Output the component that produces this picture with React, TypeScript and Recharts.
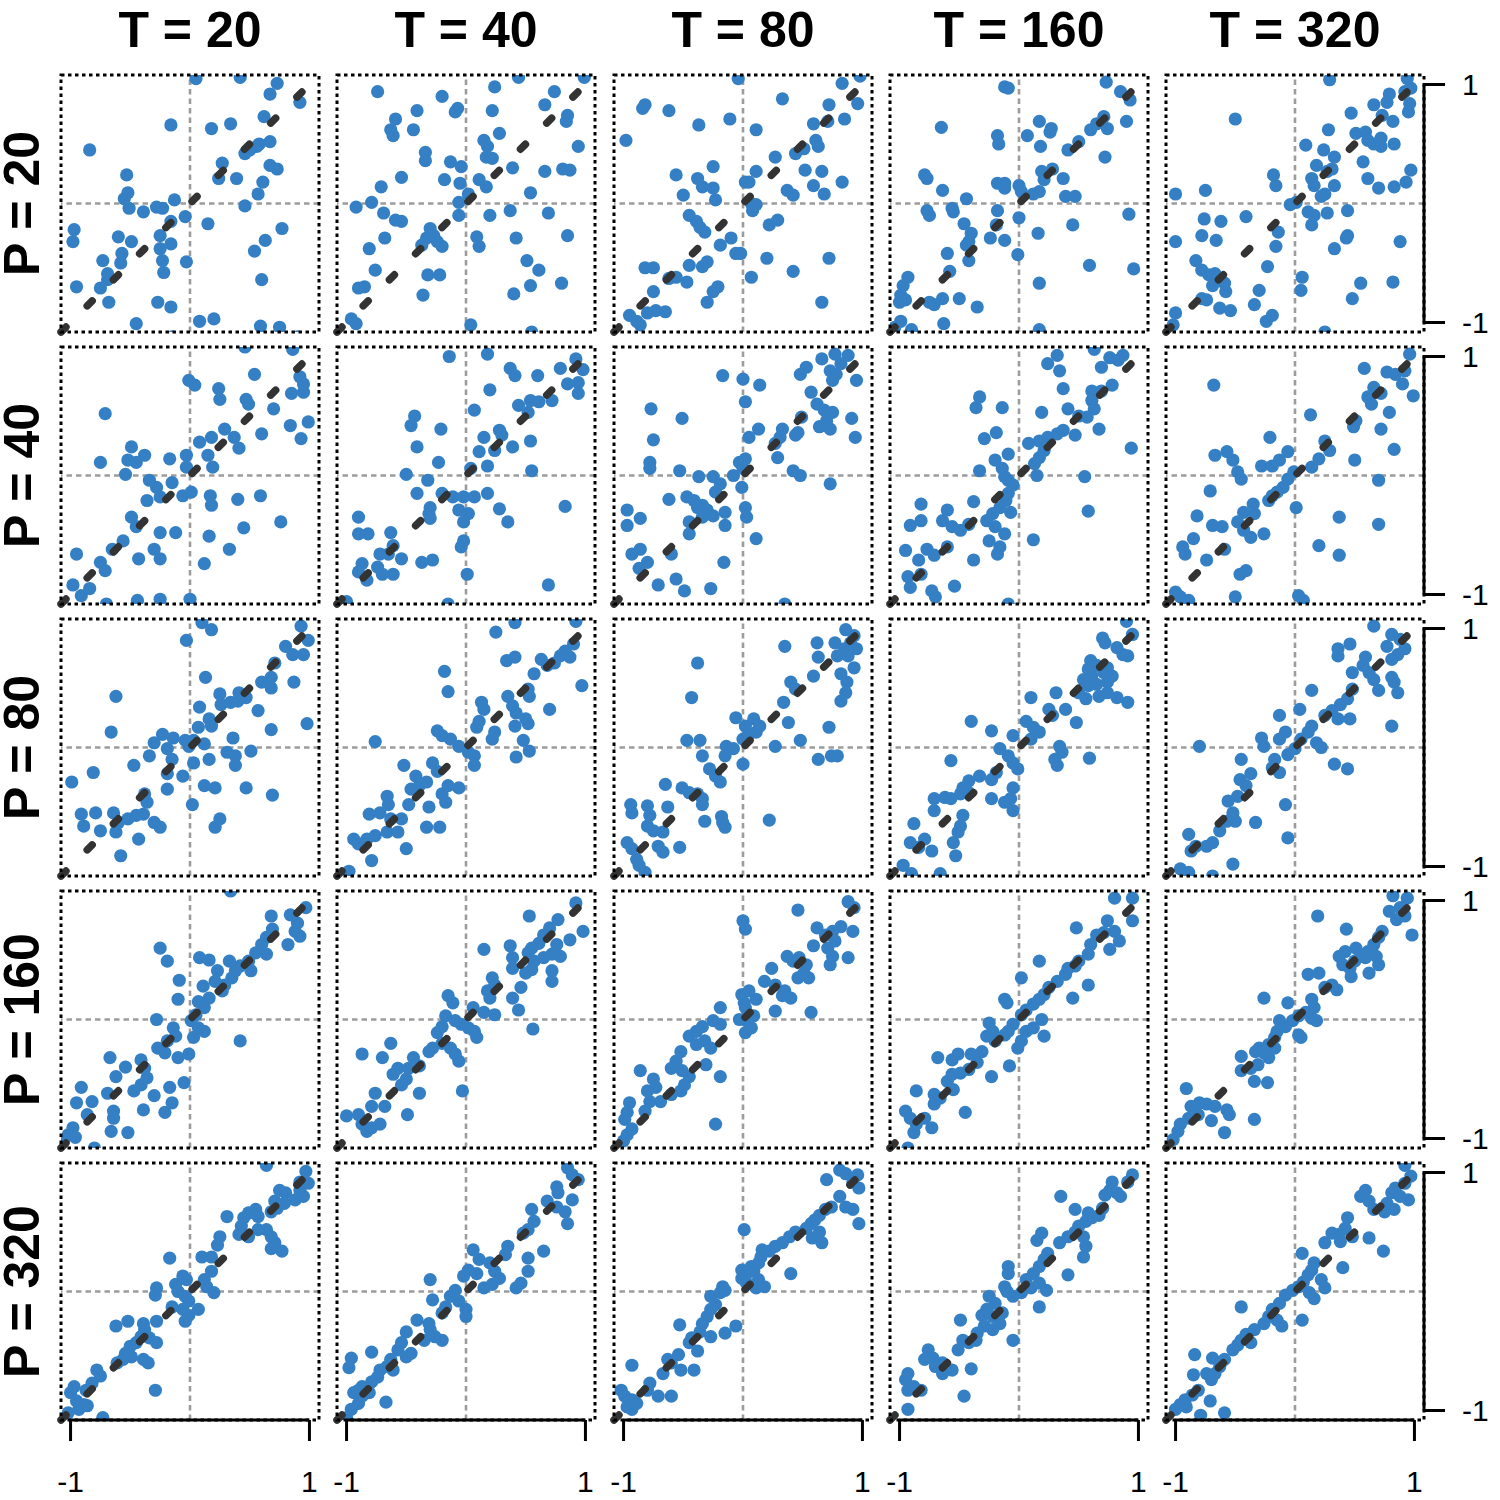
import React from 'react';
import { ScatterChart, Scatter, XAxis, YAxis, ReferenceLine, ReferenceArea } from 'recharts';

const T_VALUES = [20, 40, 80, 160, 320];
const P_VALUES = [20, 40, 80, 160, 320];
const TICKS = [-1, 1];
const DOMAIN: [number, number] = [-1.08, 1.08];

const p20t20 = [[.05,1.05],[.42,1.06],[.73,1.01],[.67,.92],[.92,.85],[-.16,.66],[.18,.63],[.34,.67],[.62,.73],[-.84,.45],[-.53,.24],[.27,.34],[.24,.21],[.39,.21],[.46,.42],[.56,.48],[.67,.52],[.67,.32],[.73,.29],[.61,.18],[.57,.08],[.46,-.02],[-.52,.09],[-.55,.04],[-.51,-.04],[-.39,-.07],[-.28,-.03],[-.23,-.04],[-.13,.03],[-.04,-.11],[-.16,-.15],[.15,-.17],[.77,-.21],[.63,-.31],[.54,-.4],[.6,-.64],[-.97,-.22],[-.98,-.32],[-.6,-.28],[-.49,-.32],[-.25,-.27],[-.25,-.38],[-.16,-.34],[-.57,-.42],[-.58,-.5],[-.73,-.48],[-.23,-.48],[-.22,-.58],[-.03,-.49],[-.69,-.59],[-.69,-.64],[-.95,-.7],[-.75,-.71],[-.68,-.83],[-.27,-.83],[-.16,-.87],[-.45,-1.01],[.08,-.99],[.2,-.97],[.59,-1.03],[.75,-1.04],[-.15,-1.12],[.9,-1.12],[.5,.45],[.58,.5]];
const p20t40 = [[-.74,.94],[-.2,.9],[.24,.98],[.44,1.06],[.74,.94],[.99,1.06],[-.41,.78],[-.59,.71],[-.63,.62],[-.61,.57],[-.44,.62],[-.09,.77],[-.07,.8],[.22,.78],[.66,.83],[.85,.74],[.84,.69],[.94,.48],[.15,.53],[.18,.48],[.28,.59],[.17,.39],[.22,.38],[-.34,.43],[-.34,.36],[-.13,.35],[-.04,.31],[.39,.3],[.66,.27],[.81,.29],[.87,.28],[-.54,.22],[-.18,.2],[-.05,.17],[.11,.2],[.17,.14],[-.71,.14],[.02,.08],[-.06,.01],[.54,.09],[-.92,-.03],[-.79,.01],[-.69,-.08],[-.59,-.14],[-.54,-.15],[-.06,-.1],[.2,-.1],[.37,-.06],[.69,-.08],[-.3,-.21],[-.27,-.27],[-.33,-.29],[-.24,-.32],[-.37,-.35],[-.2,-.36],[.09,-.28],[.11,-.36],[.42,-.29],[.85,-.27],[-.68,-.29],[-.81,-.38],[-.76,-.56],[.51,-.48],[.61,-.56],[-.32,-.6],[-.22,-.6],[.8,-.67],[.54,-.69],[.4,-.76],[-.9,-.71],[-.85,-.7],[-.36,-.77],[-.96,-.97],[-.92,-1.01],[.04,-1.02],[.55,-1.08]];
const p20t80 = [[-.82,.83],[-.84,.8],[-.62,.78],[-.37,.66],[-.11,.71],[-.98,.53],[-.56,.24],[-.38,.21],[-.34,.14],[-.25,.13],[-.23,.03],[-.25,.31],[-.5,.07],[-.45,-.1],[-.39,-.15],[-.36,-.2],[-.32,-.24],[-.19,-.35],[-.1,-.29],[-.06,-.42],[-.82,-.54],[-.75,-.54],[-.56,-.62],[-.47,-.66],[-.62,-.63],[-.45,-.52],[-.34,-.53],[-.3,-.49],[-.21,-.7],[-.25,-.74],[-.75,-.74],[-.3,-.83],[-.95,-.94],[-.89,-.99],[-.8,-.92],[-.73,-.9],[-.65,-.91],[-.86,-1.02],[-.04,1.05],[.02,.18],[.33,.88],[.83,1.01],[.96,.84],[.85,.71],[.72,.83],[.71,.69],[.59,.67],[.63,.48],[.61,.53],[.44,.42],[.51,.46],[.11,.62],[.27,.39],[.11,.27],[.52,.28],[.66,.27],[.59,.15],[.68,.08],[.83,.18],[.37,.11],[.42,.07],[.05,.18],[.07,0],[.11,-.01],[.08,-.06],[.29,-.14],[.22,-.18],[.2,-.46],[.42,-.57],[.07,-.62],[.72,-.46],[.66,-.83],[-.02,-.42],[.98,1.07]];
const p20t160 = [[-.12,.98],[-.09,.97],[-.65,.64],[-.18,.57],[-.17,.5],[.07,.57],[.17,.69],[.27,.63],[.26,.6],[.18,.48],[.41,.45],[.5,.52],[.6,.62],[.65,.67],[.74,.63],[.73,1.02],[.85,.94],[.93,.87],[.71,.73],[.9,.69],[.72,.39],[-.79,.24],[-.77,.21],[-.64,.11],[-.18,.17],[-.12,.17],[-.12,.13],[0,.15],[.02,.1],[.12,.08],[.17,.1],[.21,.2],[.19,.27],[.28,.29],[.37,.21],[.39,.06],[.47,.06],[-.44,.04],[-.77,-.06],[-.75,-.1],[-.56,-.04],[-.55,-.07],[-.18,-.06],[0,-.12],[-.46,-.17],[-.19,-.18],[.45,-.18],[.92,-.09],[.16,-.25],[-.4,-.25],[-.42,-.32],[-.44,-.35],[-.24,-.29],[-.12,-.31],[-.6,-.42],[-.01,-.43],[-.42,-.48],[-.58,-.57],[-.93,-.62],[-.97,-.69],[-.99,-.77],[-.95,-.81],[-1,-.83],[-.75,-.83],[-.71,-.85],[-.64,-.8],[-.5,-.8],[-.35,-.87],[-.63,-1.01],[-.99,-.99],[-.9,-1.06],[.17,-.67],[.59,-.52],[.96,-.55],[.17,-1.06],[-1.04,-1.04]];
const p20t320 = [[.29,1.04],[-.5,.71],[.94,1.05],[.97,.97],[.92,.94],[.79,.92],[.77,.85],[.66,.83],[.96,.84],[.95,.77],[.47,.76],[.73,.74],[.82,.69],[.28,.62],[.51,.59],[.59,.6],[.61,.53],[.66,.5],[.72,.55],[.83,.5],[.72,.48],[.09,.49],[.24,.45],[.33,.39],[.18,.32],[.27,.27],[.31,.29],[.57,.35],[.97,.28],[.93,.18],[.83,.14],[.61,.21],[.7,.13],[.14,.21],[.16,.15],[.25,.08],[.22,.06],[.33,.15],[-.04,-.01],[.01,.01],[.11,-.07],[.16,-.1],[.14,-.18],[.27,-.08],[.44,-.06],[.44,-.27],[.43,-.29],[.33,-.38],[.88,-.32],[-.18,.24],[-.16,.15],[-1,.08],[-.75,.11],[-.76,-.13],[-.62,-.15],[-.41,-.11],[-.78,-.27],[-.66,-.31],[-1,-.32],[-.14,-.24],[-.16,-.36],[-.83,-.48],[-.78,-.56],[-.72,-.6],[-.67,-.59],[-.69,-.69],[-.59,-.67],[-.58,-.74],[-.23,-.53],[.06,-.62],[.05,-.73],[.55,-.67],[.82,-.66],[.48,-.8],[-.78,-.8],[-.74,-.81],[-1,-.92],[-.63,-.88],[-.54,-.9],[-.34,-.85],[-.3,-.73],[-.24,-.99],[-.19,-.94],[.25,-1.08],[-1.02,-1.02]];

const p40t20 = [[.46,1.08],[.86,1.06],[-.01,.8],[.04,.76],[.24,.73],[.25,.64],[.54,.85],[.47,.64],[.49,.6],[.7,.56],[.85,.69],[.92,.83],[.95,.77],[.95,.7],[.84,.42],[.93,.31],[.99,.45],[.6,.35],[-.71,.52],[.29,.39],[.37,.32],[.41,.23],[.08,.28],[.18,.32],[.15,.17],[.19,.07],[-.03,.17],[-.03,.07],[-.17,.14],[-.49,.24],[-.52,.13],[-.45,.11],[-.38,.17],[-.75,.11],[-.54,.01],[-.34,-.04],[-.28,-.1],[-.15,-.06],[-.36,-.21],[-.25,-.18],[-.06,-.17],[.01,-.14],[.17,-.17],[.18,-.25],[.4,-.2],[.59,-.17],[.76,-.39],[-.49,-.35],[-.45,-.43],[-.25,-.48],[-.12,-.48],[.45,-.44],[.16,-.51],[-.56,-.55],[-.65,-.62],[-.3,-.62],[-.25,-.7],[-.43,-.7],[-.75,-.73],[-.71,-.8],[-.95,-.66],[.12,-.74],[.33,-.62],[-.98,-.92],[-.91,-1.01],[-.84,-.95],[-.44,-1.05],[-.25,-1.04],[0,-1.04],[-.7,-1.08]];
const p40t40 = [[-.14,1],[.18,1.02],[.37,.9],[.41,.84],[.6,.84],[.79,.9],[.92,.98],[.98,.89],[.94,.78],[.94,.69],[.85,.77],[.2,.72],[-.43,.5],[-.46,.42],[-.21,.39],[-.41,.24],[.07,.55],[.44,.59],[.54,.63],[.61,.62],[.72,.63],[.52,.53],[.15,.32],[.28,.38],[.3,.34],[.24,.21],[.11,.2],[.18,.08],[.39,.24],[.54,.29],[.55,.04],[-.23,.11],[.04,.06],[-.5,.01],[-.32,-.04],[.18,-.15],[-.41,-.15],[-.2,-.15],[-.11,-.18],[-.02,-.18],[.07,-.18],[-.06,-.29],[.02,-.32],[-.02,-.39],[-.3,-.27],[-.3,-.36],[-.31,-.32],[.28,-.28],[.35,-.39],[.83,-.26],[-.9,-.35],[-.63,-.48],[-.9,-.49],[-.82,-.49],[-.02,-.55],[-.04,-.6],[-.61,-.59],[-.54,-.7],[-.65,-.66],[-.72,-.66],[-.74,-.77],[-.7,-.83],[-.61,-.83],[-.87,-.74],[-.9,-.81],[-.83,-.88],[-.37,-.73],[-.28,-.71],[.01,-.83],[.69,-.92],[-1,-1.06],[-.15,-1.08]];
const p40t80 = [[-.77,.56],[-.51,.48],[-.75,.3],[-.78,.11],[-.78,.06],[-.53,.04],[-.37,-.01],[-.25,-.01],[-.19,-.07],[-.23,-.14],[-.08,0],[-.03,.11],[-.62,-.2],[-.47,-.18],[-.41,-.21],[-.38,-.27],[-.34,-.25],[-.3,-.29],[-.34,-.35],[-.45,-.39],[-.45,-.49],[-.25,-.34],[-.15,-.31],[-.15,-.42],[-.97,-.29],[-.97,-.42],[-.86,-.36],[-.93,-.66],[-.86,-.62],[-.6,-.66],[-.87,-.78],[-.8,-.73],[-.56,-.87],[-.71,-.92],[-.49,-.97],[-.27,-.95],[-.16,-.73],[-.01,-.1],[-.17,.84],[0,.81],[.14,.76],[.02,.62],[.66,.98],[.77,1.02],[.82,.94],[.88,1.01],[.73,.88],[.78,.85],[.75,.8],[.95,.8],[.48,.85],[.53,.91],[.57,.7],[.49,.49],[.62,.6],[.68,.55],[.75,.53],[.7,.46],[.73,.39],[.64,.41],[.91,.48],[.94,.32],[.33,.39],[.31,.32],[.46,.36],[.44,.34],[.13,.39],[.05,.32],[.27,.27],[.29,.15],[.42,.04],[.48,0],[.73,-.07],[.02,.14],[0,.06],[.02,-.27],[.03,-.35],[.11,-.53],[.35,-1.08]];
const p40t160 = [[.32,1.01],[.24,.94],[.34,.88],[.63,1.06],[.76,.99],[.83,.97],[.87,1.01],[.69,.91],[.37,.73],[.61,.71],[.69,.71],[.78,.76],[.61,.63],[.63,.56],[.57,.49],[.5,.5],[.41,.56],[.19,.53],[-.33,.66],[-.36,.57],[-.14,.57],[-.19,.36],[-.29,.31],[.47,.34],[.67,.39],[.94,.23],[.08,.27],[.17,.29],[.24,.32],[.32,.35],[.37,.38],[.21,.21],[.17,.15],[.13,.1],[-.09,.18],[-.2,.13],[-.14,.06],[-.12,-.01],[-.09,-.04],[-.05,-.08],[-.33,.04],[.15,0],[.55,-.01],[-.09,-.15],[-.11,-.21],[-.16,-.27],[-.22,-.32],[-.27,-.38],[-.2,-.43],[-.12,-.49],[-.25,-.55],[-.16,-.6],[-.07,-.31],[-.38,-.22],[.58,-.3],[.12,-.54],[-.82,-.24],[-.82,-.38],[-.6,-.29],[-.64,-.38],[-.56,-.43],[-.49,-.46],[-.42,-.41],[-.91,-.42],[-.95,-.63],[-.84,-.71],[-.77,-.62],[-.71,-.67],[-.6,-.6],[-.38,-.71],[-.18,-.66],[-.93,-.85],[-.91,-.94],[-.82,-.83],[-.73,-.97],[-.7,-1.02],[-.54,-.93],[-.09,-1.08]];
const p40t320 = [[-.68,.76],[.58,.9],[.77,.87],[.84,.85],[.92,.88],[.96,1.02],[.9,.77],[.99,.67],[.66,.74],[.72,.69],[.61,.66],[.64,.6],[.79,.53],[.72,.39],[.83,.22],[.51,.46],[.49,.41],[.13,.51],[-.21,.32],[.25,.29],[.29,.21],[.2,.14],[.14,.07],[.5,.13],[-.06,.2],[-.13,.13],[-.19,.08],[-.28,.08],[-.01,.03],[-.06,-.03],[-.1,-.1],[-.15,-.14],[-.19,-.17],[-.22,-.21],[-.67,.17],[-.57,.2],[-.52,.13],[-.48,.03],[-.45,-.03],[-.71,-.13],[.7,-.04],[.01,-.27],[.37,-.35],[.7,-.41],[-.35,-.24],[-.34,-.32],[-.43,-.31],[-.48,-.39],[-.43,-.46],[-.37,-.52],[-.26,-.49],[-.82,-.34],[-.69,-.42],[-.61,-.43],[-.94,-.6],[-.92,-.66],[-.85,-.53],[-.74,-.71],[-.59,-.62],[-.46,-.83],[-.41,-.8],[.2,-.59],[.37,-.67],[-.5,-1.02],[.03,-1.01],[.07,-1.05],[-1,-.98],[-.96,-1.02],[-.89,-1.05]];

const p80t20 = [[.1,1.05],[.18,.99],[-.03,.9],[.93,1.02],[.99,.9],[.95,.78],[.8,.85],[.86,.78],[.71,.71],[.87,.55],[.68,.59],[.68,.5],[.6,.55],[.57,.31],[.68,.15],[.98,.2],[.13,.59],[-.62,.43],[-.66,.13],[.08,.34],[.07,.17],[.25,.45],[.26,.36],[.34,.38],[.41,.46],[.47,.42],[.4,.39],[.16,.24],[.18,.18],[.36,.08],[-.23,.11],[-.3,.04],[-.34,-.07],[-.14,.08],[-.04,.06],[-.01,.01],[.03,.06],[.12,.03],[.16,-.1],[-.19,-.01],[-.15,-.1],[.31,-.04],[.38,-.07],[.38,-.15],[.51,-.03],[.03,-.13],[-.47,-.15],[-.81,-.21],[-.99,-.29],[-.19,-.22],[-.19,-.35],[-.06,-.24],[.12,-.32],[.21,-.34],[.47,-.34],[.69,-.4],[-.38,-.39],[-.36,-.46],[.02,-.48],[-.91,-.56],[-.89,-.66],[-.79,-.55],[-.64,-.55],[-.6,-.63],[-.52,-.6],[-.45,-.57],[-.39,-.56],[-.3,-.63],[-.25,-.67],[-.75,-.7],[-.62,-.71],[-.43,-.77],[.25,-.6],[.21,-.67],[-.58,-.91]];
const p80t40 = [[.41,1.05],[.25,.97],[.92,1.06],[.9,.87],[.83,.81],[.87,.76],[.79,.77],[.63,.74],[.68,.69],[.74,.71],[.97,.52],[.34,.73],[.41,.76],[.57,.62],[.52,.49],[.53,.43],[.7,.32],[-.18,.64],[-.15,.47],[.13,.38],[.15,.32],[.35,.43],[.39,.35],[.42,.29],[.5,.24],[.52,.2],[.41,.18],[.11,.22],[.09,.17],[.24,.13],[.22,.07],[.48,.06],[.53,-.03],[.42,-.08],[-.24,.14],[-.2,.1],[-.13,.07],[-.06,.01],[.02,-.04],[.07,-.07],[.07,-.15],[-.76,.05],[-.52,-.15],[-.28,-.13],[-.24,-.2],[-.42,-.24],[-.39,-.32],[-.46,-.35],[-.33,-.29],[-.15,-.32],[-.06,-.34],[-.2,-.39],[-.17,-.46],[-.31,-.5],[-.66,-.41],[-.65,-.48],[-.48,-.48],[-.81,-.56],[-.72,-.55],[-.63,-.6],[-.54,-.6],[-.33,-.67],[-.22,-.67],[-.94,-.77],[-.9,-.81],[-.83,-.77],[-.76,-.74],[-.66,-.71],[-.57,-.71],[-.79,-.95],[-.5,-.85],[-.98,-1.04]];
const p80t80 = [[-.38,.71],[-.43,.42],[-.06,.25],[-.47,.06],[-.36,.06],[-.14,.01],[-.08,-.01],[-.15,-.07],[-.34,-.07],[-.28,-.18],[-.23,-.24],[-.19,-.29],[-.65,-.31],[-.51,-.34],[-.45,-.38],[-.38,-.39],[-.34,-.43],[-.34,-.48],[-.32,-.62],[-.17,-.63],[-.18,-.58],[-.15,-.67],[-.94,-.48],[-.93,-.55],[-.8,-.49],[-.78,-.57],[-.8,-.66],[-.63,-.5],[-.75,-.7],[-.67,-.71],[-.71,-.83],[-.67,-.88],[-.97,-.8],[-.93,-.85],[-.89,-.94],[-.87,-.99],[-.53,-.84],[-.82,-1.05],[.02,.18],[.09,.24],[.14,.18],[.05,.11],[0,.07],[.11,.13],[.35,.85],[.62,.88],[.63,.76],[.59,.6],[.4,.55],[.44,.49],[.34,.38],[.38,.21],[.72,.17],[.48,.06],[.27,.01],[.77,.88],[.85,.83],[.9,.88],[.86,.99],[.93,.94],[.95,.83],[.88,.77],[.79,.77],[.93,.67],[.82,.62],[.87,.55],[.86,.46],[.82,.39],[.63,-.1],[.74,-.07],[.79,-.07],[0,-.14],[.22,-.61]];
const p80t160 = [[.9,1.06],[.7,.92],[.72,.88],[.95,.95],[.82,.84],[.87,.78],[.91,.77],[.6,.73],[.65,.69],[.71,.63],[.74,.67],[.78,.6],[.58,.66],[.61,.6],[.54,.57],[.58,.52],[.65,.53],[.74,.55],[.74,.46],[.67,.43],[.82,.42],[.91,.38],[.5,.46],[.56,.41],[.31,.46],[.1,.42],[.25,.32],[.28,.27],[.39,.32],[.48,.21],[-.4,.22],[-.23,.14],[-.05,.1],[.06,.22],[.12,.17],[.17,.13],[.1,.07],[.34,.01],[.36,-.04],[.3,-.1],[.32,-.15],[.59,-.09],[-.16,-.01],[-.09,-.07],[-.05,-.13],[-.01,-.18],[-.57,-.11],[-.19,-.21],[-.23,-.27],[-.33,-.24],[-.42,-.28],[-.47,-.34],[-.49,-.39],[-.57,-.43],[-.42,-.38],[-.05,-.34],[-.07,-.43],[-.05,-.53],[-.23,-.43],[-.12,-.46],[-.71,-.43],[-.62,-.42],[-.71,-.53],[-.47,-.57],[-.49,-.66],[-.51,-.71],[-.55,-.8],[-.88,-.64],[-.91,-.8],[-.84,-.84],[-.79,-.77],[-.73,-.87],[-.53,-.91],[-.97,-.99],[-.9,-1.06],[-.66,-1.06]];
const p80t320 = [[.66,1.02],[.46,.87],[.36,.83],[.36,.77],[.59,.76],[.57,.69],[.62,.63],[.66,.57],[.81,.95],[.88,.91],[.92,.83],[.86,.78],[.81,.74],[.77,.85],[.48,.63],[.81,.59],[.83,.55],[.86,.46],[.7,.48],[.81,.18],[.48,.49],[.44,.41],[.38,.36],[.31,.31],[.25,.27],[.36,.24],[.46,.24],[.14,.48],[.04,.32],[.14,.18],[.11,.13],[.05,.07],[.18,.04],[.22,0],[-.13,.27],[-.08,.13],[-.13,.07],[0,-.01],[-.06,-.06],[-.28,.08],[-.26,.01],[-.8,.01],[-.17,-.1],[-.19,-.17],[-.13,-.21],[.33,-.14],[.44,-.18],[-.45,-.1],[-.46,-.27],[-.41,-.32],[-.37,-.22],[-.48,-.41],[-.56,-.45],[-.52,-.55],[-.57,-.62],[-.5,-.62],[-.08,-.48],[-.33,-.63],[-.06,-.76],[-.63,-.7],[-.69,-.8],[-.74,-.83],[-.89,-.73],[-.83,-.83],[-.87,-.87],[-.52,-.98],[-.96,-1.02],[-.89,-1.05],[-.69,-1.08]];

const p160t20 = [[.34,1.08],[.68,.87],[.84,.88],[.9,.81],[.88,.74],[.92,.7],[.82,.63],[.97,.94],[.69,.76],[.64,.69],[.6,.63],[.64,.55],[.55,.56],[.49,.49],[.51,.41],[.42,.45],[.33,.49],[.38,.41],[.35,.35],[.29,.29],[.23,.41],[.21,.32],[.27,.24],[.08,.52],[.16,.5],[.11,.28],[.16,.18],[.07,.15],[.12,.1],[.05,.04],[.01,-.01],[.07,-.07],[.12,-.1],[.03,-.15],[-.25,.6],[-.19,.49],[-.09,.33],[-.1,.17],[-.28,0],[.42,-.18],[-.14,-.07],[-.12,-.14],[-.19,-.18],[-.27,-.24],[-.21,-.28],[-.1,-.32],[-.01,-.29],[-.67,-.32],[-.41,-.34],[-.38,-.41],[-.54,-.4],[-.62,-.48],[-.36,-.49],[-.41,-.55],[-.47,-.6],[-.17,-.57],[-.05,-.53],[-.3,-.64],[-.15,-.7],[-.21,-.78],[-.39,-.76],[-.69,-.62],[-.91,-.57],[-.82,-.69],[-.95,-.7],[-.86,-.8],[-.64,-.77],[-.64,-.83],[-.66,-.94],[-.52,-.95],[-.98,-.91],[-.96,-.99],[-1.02,-.97],[-1.06,-1.02],[-.8,-1.08]];
const p160t40 = [[.53,.87],[.92,.98],[.98,.74],[.77,.84],[.7,.77],[.65,.71],[.61,.64],[.55,.6],[.52,.56],[.57,.49],[.65,.52],[.72,.55],[.79,.53],[.87,.67],[.76,.63],[.72,.41],[.72,.32],[.55,.42],[.5,.39],[.37,.62],[.39,.52],[.39,.43],[.15,.59],[.22,.35],[.24,.29],[.18,.24],[.2,.18],[.46,.27],[.39,.18],[.44,.08],[.56,-.08],[.06,.1],[.15,.06],[.24,.04],[-.15,.2],[-.11,.14],[-.17,.03],[-.09,-.01],[-.04,-.04],[.02,-.07],[.07,-.1],[.09,-.15],[-.2,-.06],[-.24,-.11],[-.2,-.2],[-.28,-.24],[-.31,-.27],[-.13,-.24],[-.09,-.29],[-.06,-.35],[-.63,-.2],[-.87,-.29],[-.7,-.32],[-.57,-.41],[-.61,-.46],[-.48,-.41],[-.44,-.32],[-.39,-.39],[-.5,-.5],[-.54,-.55],[-.76,-.62],[-.68,-.73],[-.79,-.73],[-.39,-.62],[-.03,-.6],[-1,-.81],[-.9,-.8],[-.87,-.88],[-.79,-.91],[-.72,-.88],[-.83,-.94],[-.49,-.8]];
const p160t80 = [[-.19,.1],[-.34,-.06],[-.39,-.1],[-.45,-.14],[-.39,-.21],[-.32,-.18],[-.27,-.24],[-.25,-.01],[-.19,-.04],[-.52,-.27],[-.56,-.35],[-.6,-.41],[-.51,-.43],[-.45,-.48],[-.49,-.55],[-.52,-.6],[-.6,-.63],[-.19,-.48],[-.86,-.43],[-.75,-.5],[-.8,-.6],[-.78,-.69],[-.82,-.77],[-.69,-.69],[-.73,-.57],[-.95,-.7],[-.97,-.78],[-.99,-.84],[-.93,-.92],[-.97,-.97],[-1,-1.02],[-.23,-.88],[-.03,0],[-.01,.21],[.01,.14],[-.31,-.38],[0,.83],[.02,.76],[.46,.92],[.62,.77],[.69,.71],[.75,.74],[.82,.78],[.77,.66],[.71,.6],[.75,.53],[.73,.46],[.88,.52],[.88,.99],[.93,.94],[.92,.74],[.59,.62],[.37,.53],[.42,.49],[.47,.52],[.53,.46],[.51,.39],[.55,.35],[.46,.35],[.24,.43],[.18,.32],[.27,.29],[.35,.24],[.4,.18],[.33,.2],[.27,.07],[.05,.24],[.11,.17],[.02,.1],[.09,.03],[.03,-.01],[.07,-.07],[.02,-.11],[.57,.06]];
const p160t160 = [[.8,1.02],[.95,1.02],[.95,.83],[.48,.77],[.74,.83],[.71,.73],[.65,.71],[.8,.74],[.84,.66],[.76,.59],[.6,.63],[.58,.55],[.5,.49],[.47,.45],[.41,.43],[.39,.38],[.58,.29],[.17,.49],[.02,.35],[.32,.32],[.25,.27],[.21,.21],[.17,.17],[.12,.13],[.06,.08],[.02,.04],[.45,.18],[-.1,.14],[-.12,.17],[.19,0],[.21,-.14],[.12,-.07],[.06,-.1],[.02,-.18],[-.25,-.03],[-.22,-.1],[-.27,-.14],[-.2,-.18],[-.12,-.13],[-.05,-.04],[-.09,-.1],[-.01,-.24],[-.31,-.27],[-.4,-.29],[-.35,-.36],[-.42,-.42],[-.49,-.45],[-.56,-.46],[-.6,-.52],[-.68,-.32],[-.56,-.34],[-.51,-.29],[-.08,-.39],[-.23,-.48],[-.71,-.63],[-.66,-.66],[-.71,-.71],[-.55,-.59],[-.86,-.6],[-.95,-.77],[-.91,-.83],[-.86,-.88],[-.79,-.83],[-.73,-.91],[-.45,-.78],[-.88,-.95],[-.93,-1.08]];
const p160t320 = [[.19,.87],[.43,.76],[.82,1.04],[.94,1.02],[.88,.94],[.79,.91],[.85,.84],[.92,.87],[.98,.71],[.73,.74],[.7,.69],[.66,.63],[.61,.57],[.55,.53],[.5,.49],[.46,.43],[.4,.46],[.37,.53],[.42,.57],[.51,.6],[.59,.52],[.68,.53],[.7,.46],[.62,.39],[.47,.36],[.11,.38],[.2,.39],[.31,.29],[.25,.27],[.35,.25],[.14,.17],[.16,.1],[.09,.06],[.03,.03],[.14,.01],[.18,-.01],[-.26,.18],[-.06,.14],[-.02,-.01],[-.08,-.06],[-.13,-.01],[-.15,-.1],[.03,-.13],[.05,-.15],[-.17,-.15],[-.22,-.21],[-.3,-.24],[-.33,-.27],[-.26,-.28],[-.17,-.24],[-.22,-.32],[-.31,-.38],[-.37,-.41],[-.45,-.43],[-.45,-.31],[-.34,-.52],[-.23,-.53],[-.91,-.58],[-.87,-.73],[-.8,-.7],[-.74,-.71],[-.67,-.73],[-.57,-.76],[-.55,-.8],[-.81,-.8],[-.89,-.83],[-.96,-.88],[-.98,-.94],[-1.02,-1.01],[-.7,-.85],[-.59,-.95],[-.34,-.84]];

const p320t20 = [[.64,1.06],[.97,1.01],[.92,.92],[.99,.91],[.92,.85],[.88,.77],[.95,.8],[.8,.83],[.75,.85],[.71,.76],[.73,.7],[.68,.67],[.79,.74],[.31,.63],[.49,.66],[.55,.69],[.57,.63],[.45,.62],[.43,.55],[.41,.48],[.49,.46],[.57,.52],[.64,.52],[.68,.46],[.71,.41],[.77,.34],[.68,.36],[.25,.46],[.23,.39],[.1,.29],[.18,.29],[-.17,.28],[-.06,.13],[-.12,.06],[-.03,.1],[-.1,0],[-.04,-.04],[-.01,-.08],[.18,.17],[.12,.1],[.14,.04],[.2,-.01],[-.28,.03],[-.29,-.03],[-.15,-.13],[-.06,-.15],[-.01,-.2],[-.04,-.25],[.07,-.15],[-.62,-.29],[-.52,-.25],[-.39,-.27],[-.28,-.25],[-.38,-.32],[-.41,-.38],[-.34,-.39],[-.28,-.43],[-.45,-.43],[-.5,-.46],[-.54,-.52],[-.49,-.55],[-.56,-.57],[-.39,-.57],[-.35,-.6],[-.61,-.6],[-.78,-.66],[-.75,-.71],[-.82,-.77],[-.87,-.83],[-.97,-.8],[-1,-.85],[-.95,-.92],[-.89,-.95],[-.93,-.99],[-.86,-.96],[-.29,-.83],[-.73,-1.06],[-1.02,-1.02]];
const p320t40 = [[.85,1.04],[.89,.98],[.94,.94],[.76,.88],[.77,.83],[.89,.77],[.68,.76],[.76,.71],[.83,.67],[.85,.57],[.55,.69],[.57,.59],[.52,.52],[.48,.49],[.65,.34],[.52,.28],[.52,.17],[.46,.07],[.42,.03],[.35,.38],[.33,.31],[.06,.35],[.11,.27],[.2,.24],[.24,.17],[.28,.11],[.22,.06],[.15,.03],[.09,.15],[.02,.18],[-.02,.13],[-.3,.1],[-.09,.01],[-.13,-.04],[-.06,-.08],[0,-.15],[0,-.21],[-.17,-.13],[-.2,-.18],[-.28,-.07],[-.41,-.24],[-.31,-.27],[-.3,-.32],[-.26,-.38],[-.2,-.41],[-.35,-.41],[-.5,-.34],[-.54,-.43],[-.57,-.49],[-.46,-.52],[-.5,-.55],[-.79,-.51],[-.63,-.57],[-.66,-.63],[-.72,-.66],[-.61,-.66],[-.96,-.56],[-.98,-.64],[-.74,-.72],[-.79,-.76],[-.87,-.8],[-.9,-.83],[-.94,-.85],[-.87,-.88],[-.81,-.85],[-.9,-.94],[-.96,-.99],[-.67,-.93],[-1,-1.06]];
const p320t80 = [[-.93,-.62],[-1.02,-.83],[-.99,-.88],[-.93,-.91],[-.97,-.97],[-.89,-.94],[-.93,-.99],[-.78,-.77],[-.8,-.83],[-.71,-.88],[-.6,-.88],[-.67,-.69],[-.63,-.57],[-.6,-.6],[-.54,-.53],[-.52,-.66],[-.41,-.66],[-.38,-.5],[-.43,-.39],[-.45,-.43],[-.36,-.34],[-.34,-.27],[-.3,-.21],[-.27,-.15],[-.23,-.11],[-.27,-.04],[-.19,-.01],[-.17,.04],[-.53,-.28],[-.27,-.38],[-.15,-.35],[-.06,-.29],[-.15,.01],[.01,.52],[-.01,.18],[-.01,.11],[.7,.94],[.81,1.02],[.86,.99],[.96,.98],[.97,.87],[.92,.92],[.81,.8],[.86,.71],[.92,.69],[.97,.57],[.74,.71],[.69,.69],[.64,.64],[.6,.6],[.57,.57],[.53,.53],[.64,.5],[.58,.45],[.66,.41],[.44,.5],[.39,.46],[.33,.41],[.27,.38],[.22,.34],[.16,.35],[.15,.29],[.13,.24],[.07,.21],[.09,.17],[.02,.13],[.13,.1],[.18,.04],[.11,.03],[.03,.07],[.4,.15]];
const p320t160 = [[.95,.98],[.91,.92],[.78,.92],[.76,.85],[.72,.81],[.82,.83],[.85,.8],[.35,.8],[.47,.69],[.58,.66],[.61,.62],[.67,.64],[.7,.7],[.56,.59],[.5,.55],[.47,.5],[.41,.46],[.54,.46],[.56,.38],[.54,.29],[.19,.49],[.15,.43],[.34,.41],[.24,.32],[.21,.27],[.17,.21],[.12,.15],[.06,.1],[.1,.03],[.02,-.01],[-.05,-.04],[-.1,0],[-.12,.04],[-.09,.21],[-.09,.15],[.17,.07],[.23,.01],[.41,.14],[.17,-.13],[-.25,-.04],[-.2,-.1],[-.27,-.15],[-.31,-.2],[-.22,-.21],[-.14,-.18],[-.16,-.27],[-.22,-.32],[-.29,-.29],[-.35,-.35],[-.36,-.41],[-.42,-.43],[-.47,-.41],[-.51,-.49],[-.49,-.24],[-.05,-.41],[-.4,-.65],[-.76,-.49],[-.72,-.56],[-.79,-.57],[-.64,-.6],[-.56,-.66],[-.64,-.69],[-.7,-.63],[-.93,-.69],[-.95,-.74],[-.93,-.83],[-.88,-.8],[-.82,-.83],[-.46,-.88],[-.93,-.99]];
const p320t320 = [[.92,1.06],[.97,.97],[.92,.91],[.84,.87],[.81,.83],[.88,.8],[.95,.77],[.77,.74],[.83,.69],[.75,.67],[.66,.69],[.59,.85],[.55,.8],[.62,.76],[.44,.62],[.42,.53],[.37,.48],[.31,.49],[.38,.42],[.48,.46],[.25,.41],[.62,.45],[.74,.34],[.06,.32],[.4,.2],[.16,.24],[.14,.18],[.11,.14],[.07,.08],[.03,.04],[-.02,.01],[-.08,-.03],[.22,.1],[.25,.03],[.16,-.06],[.12,-.01],[-.13,-.1],[-.19,-.15],[-.22,-.21],[-.15,-.24],[-.11,-.29],[-.26,-.27],[-.45,-.13],[.06,-.24],[-.34,-.32],[-.41,-.36],[-.45,-.41],[-.48,-.45],[-.37,-.43],[-.52,-.49],[-.59,-.57],[-.63,-.63],[-.67,-.69],[-.74,-.69],[-.7,-.74],[-.85,-.7],[-.84,-.53],[-.69,-.56],[-.81,-.83],[-.86,-.87],[-.92,-.91],[-.96,-.95],[-1,-.99],[-.91,-.97],[-.71,-.92],[-.79,-1.04],[-.59,-1.02]];

const GRID = [
  [p20t20, p20t40, p20t80, p20t160, p20t320],
  [p40t20, p40t40, p40t80, p40t160, p40t320],
  [p80t20, p80t40, p80t80, p80t160, p80t320],
  [p160t20, p160t40, p160t80, p160t160, p160t320],
  [p320t20, p320t40, p320t80, p320t160, p320t320],
];

const FONT = '"Liberation Sans", Arial, Helvetica, sans-serif';
const BLUE = '#3580C5';
const PW = 258;
const PH = 257;
const M = 5;
const AX = 80;
const TICK_SIZE = 21;
const TICK_MARGIN_X = 30;
const TICK_MARGIN_Y = 17;
const COL_LEFT = [61, 337, 614, 890, 1166];
const ROW_TOP = [75, 347, 619, 891, 1163];

const Dot = (props: any) => {
  if (props.cx == null || props.cy == null) return null;
  return <circle cx={props.cx} cy={props.cy} r={6.6} fill={BLUE} />;
};

const GreyLine = (p: any) => (
  <line x1={p.x1} y1={p.y1} x2={p.x2} y2={p.y2} stroke="#9c9c9c" strokeWidth={2.6} strokeDasharray="5.5 4" />
);

const Diagonal = (p: any) => (
  <line x1={p.x1} y1={p.y1} x2={p.x2} y2={p.y2} stroke="#333333" strokeWidth={7.5} strokeLinecap="round" strokeDasharray="7 30" />
);

const AxisLine = (p: any) => (
  <line x1={p.x1} y1={p.y1} x2={p.x2} y2={p.y2} stroke="#000" strokeWidth={3} />
);

const Border = (p: any) => (
  <rect x={p.x} y={p.y} width={p.width} height={p.height} fill="none" stroke="#000" strokeWidth={3} strokeDasharray="3.5 3.5" />
);

const BottomTick = (p: any) => (
  <g>
    <line x1={p.x} y1={p.y - TICK_SIZE - TICK_MARGIN_X} x2={p.x} y2={p.y - TICK_MARGIN_X} stroke="#000" strokeWidth={3} />
    <text x={p.x} y={p.y + 21} textAnchor="middle" fontSize={30} fontFamily={FONT} fill="#000">
      {p.payload.value}
    </text>
  </g>
);

const RightTick = (p: any) => (
  <g>
    <line x1={p.x - TICK_SIZE - TICK_MARGIN_Y} y1={p.y} x2={p.x - TICK_MARGIN_Y} y2={p.y} stroke="#000" strokeWidth={3} />
    <text x={p.x} y={p.y + 10.5} textAnchor="start" fontSize={30} fontFamily={FONT} fill="#000">
      {p.payload.value}
    </text>
  </g>
);

function Panel({ pts, r, c }: { pts: number[][]; r: number; c: number }) {
  const isBottom = r === 4;
  const isRight = c === 4;
  const w = M + PW + M + (isRight ? AX : 0);
  const h = M + PH + M + (isBottom ? AX : 0);
  const data = pts.map(([x, y]) => ({ x, y }));
  return (
    <div style={{ position: 'absolute', left: COL_LEFT[c] - M, top: ROW_TOP[r] - M }}>
      <ScatterChart width={w} height={h} margin={{ top: M, right: M, bottom: M, left: M }}>
        <XAxis
          type="number"
          dataKey="x"
          domain={DOMAIN}
          allowDataOverflow
          hide={!isBottom}
          ticks={TICKS}
          interval={0}
          height={AX}
          axisLine={false}
          tickLine={false}
          tickSize={TICK_SIZE}
          tickMargin={TICK_MARGIN_X}
          tick={BottomTick}
        />
        <YAxis
          type="number"
          dataKey="y"
          domain={DOMAIN}
          allowDataOverflow
          hide={!isRight}
          orientation="right"
          ticks={TICKS}
          interval={0}
          width={AX}
          axisLine={false}
          tickLine={false}
          tickSize={TICK_SIZE}
          tickMargin={TICK_MARGIN_Y}
          tick={RightTick}
        />
        <ReferenceLine x={0} shape={GreyLine} zIndex={-10} />
        <ReferenceLine y={0} shape={GreyLine} zIndex={-10} />
        <Scatter data={data} shape={Dot} isAnimationActive={false} />
        <ReferenceLine segment={[{ x: -1.08, y: -1.08 }, { x: 1.08, y: 1.08 }]} shape={Diagonal} zIndex={1500} />
        <ReferenceArea x1={-1.08} x2={1.08} y1={-1.08} y2={1.08} shape={Border} zIndex={1500} />
        {isBottom && (
          <ReferenceLine segment={[{ x: -1, y: -1.08 }, { x: 1, y: -1.08 }]} shape={AxisLine} zIndex={1600} />
        )}
        {isRight && (
          <ReferenceLine segment={[{ x: 1.08, y: -1 }, { x: 1.08, y: 1 }]} shape={AxisLine} zIndex={1600} />
        )}
      </ScatterChart>
    </div>
  );
}

export default function App() {
  return (
    <div style={{ position: 'absolute', left: 0, top: 0, width: 1500, height: 1500, background: '#fff', overflow: 'hidden' }}>
      <svg width={1500} height={1500} style={{ position: 'absolute', left: 0, top: 0 }}>
        {T_VALUES.map((t, c) => (
          <text key={'t' + t} x={COL_LEFT[c] + PW / 2} y={47} textAnchor="middle" fontFamily={FONT} fontWeight="bold" fontSize={50} fill="#000">
            {`T = ${t}`}
          </text>
        ))}
        {P_VALUES.map((p, r) => {
          const cy = ROW_TOP[r] + PH / 2;
          return (
            <text key={'p' + p} x={39} y={cy} transform={`rotate(-90, 39, ${cy})`} textAnchor="middle" fontFamily={FONT} fontWeight="bold" fontSize={50} fill="#000">
              {`P = ${p}`}
            </text>
          );
        })}
      </svg>
      {GRID.map((row, r) => row.map((pts, c) => <Panel key={`${r}-${c}`} pts={pts} r={r} c={c} />))}
    </div>
  );
}
